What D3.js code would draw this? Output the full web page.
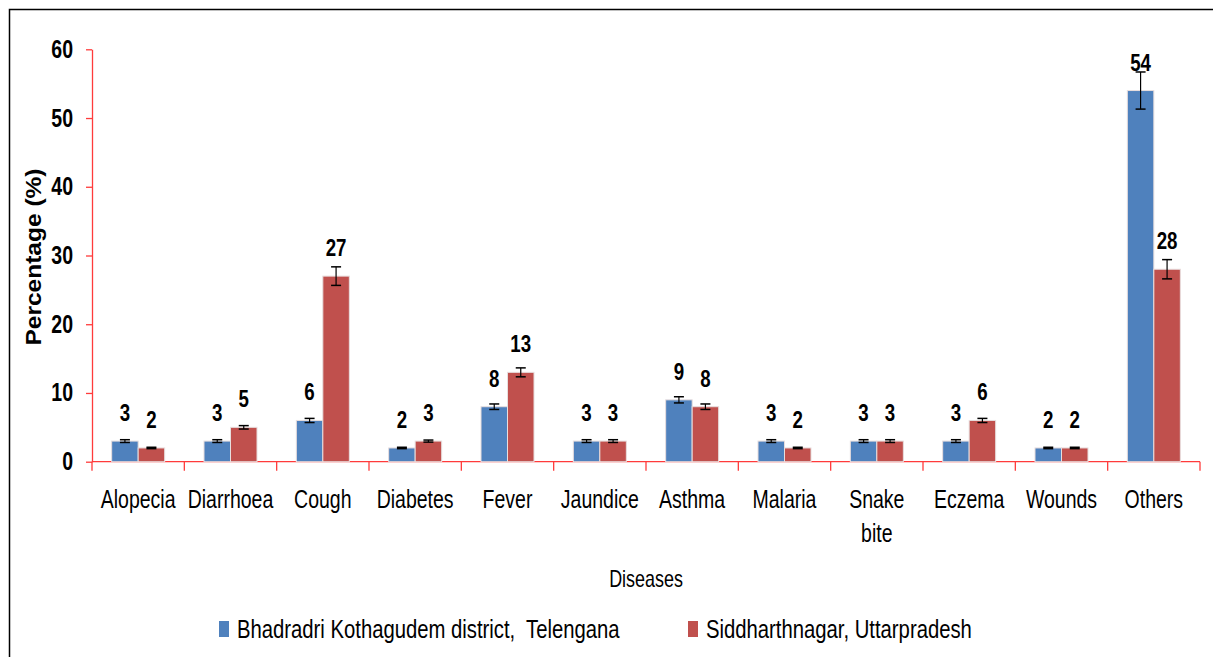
<!DOCTYPE html>
<html>
<head>
    <meta charset="utf-8">
    <title>Diseases bar chart</title>
    <script src="https://cdn.jsdelivr.net/npm/d3@7/dist/d3.min.js"></script>
    <style>
        body {
            margin: 0;
            background: #fff;
            font-family: "Liberation Sans", Arial, sans-serif;
        }
        svg { display: block; }
    </style>
</head>
<body>
    <script>
    // chart values
    var diseases = ["Alopecia", "Diarrhoea", "Cough", "Diabetes", "Fever", "Jaundice",
                    "Asthma", "Malaria", "Snake bite", "Eczema", "Wounds", "Others"];
    var telengana = [3, 3, 6, 2, 8, 3, 9, 3, 3, 3, 2, 54];
    var uttarpradesh = [2, 5, 27, 3, 13, 3, 8, 2, 3, 6, 2, 28];
    var telenganaErr = [0.2, 0.2, 0.3, 0.1, 0.4, 0.2, 0.45, 0.2, 0.2, 0.2, 0.1, 2.7];
    var uttarpradeshErr = [0.1, 0.25, 1.35, 0.15, 0.65, 0.2, 0.4, 0.1, 0.2, 0.3, 0.1, 1.4];
    var seriesNames = ["Bhadradri Kothagudem district,  Telengana", "Siddharthnagar, Uttarpradesh"];
    var yTicks = [0, 10, 20, 30, 40, 50, 60];

    var colors = ["#4f81bd", "#c0504d"];
    var axisColor = "#ff3b3b";
    var sx = 0.78; // horizontal squeeze so Arial looks like the narrow original

    var width = 1213;
    var height = 657;

    var svg = d3.select("body")
        .append("svg")
        .attr("width", width)
        .attr("height", height);

    // squeezed text placed at real x
    function narrow(sel, xpos) {
        return sel.attr("transform", "scale(" + sx + ",1)")
            .attr("x", function(d, i) {
                var v = typeof xpos === "function" ? xpos(d, i) : xpos;
                return v / sx;
            });
    }

    // outer frame (top and left edges)
    svg.append("path")
        .attr("d", "M9.5,657 L9.5,9.5 L1213,9.5")
        .attr("fill", "none")
        .attr("stroke", "#000")
        .attr("stroke-width", 1.5);

    var x0 = d3.scaleBand()
        .domain(diseases)
        .range([92, 1200]);

    var x1 = d3.scaleBand()
        .domain([0, 1])
        .range([-26.5, 26.5]);

    var y = d3.scaleLinear()
        .domain([0, 60])
        .range([461.7, 49.3]);

    // y axis
    var yAxis = svg.append("g")
        .attr("transform", "translate(92,0)")
        .call(d3.axisLeft(y).tickValues(yTicks).tickSize(6).tickSizeOuter(0));
    yAxis.select(".domain").attr("stroke", axisColor).attr("stroke-width", 1.3);
    yAxis.selectAll(".tick line").attr("stroke", axisColor).attr("stroke-width", 1.3);
    narrow(yAxis.selectAll(".tick text"), -19)
        .attr("fill", "#000")
        .style("font-family", "'Liberation Sans', Arial, sans-serif")
        .style("font-size", "25px")
        .style("font-weight", "bold");

    // x axis line with ticks at category boundaries
    var xAxis = svg.append("g");
    xAxis.append("line")
        .attr("x1", x0.range()[0]).attr("x2", x0.range()[1])
        .attr("y1", y(0)).attr("y2", y(0))
        .attr("stroke", axisColor).attr("stroke-width", 1.3);
    var bounds = diseases.map(function(d) { return x0(d); }).concat([x0.range()[1]]);
    xAxis.selectAll("line.tick")
        .data(bounds)
        .enter()
        .append("line")
        .attr("class", "tick")
        .attr("x1", function(d) { return d; })
        .attr("x2", function(d) { return d; })
        .attr("y1", y(0))
        .attr("y2", y(0) + 9)
        .attr("stroke", axisColor)
        .attr("stroke-width", 1.3);

    // category labels
    var catX = function(d) { return x0(d) + x0.bandwidth() / 2; };
    var catLabels = svg.append("g").selectAll("text")
        .data(diseases)
        .enter()
        .append("text")
        .attr("transform", "scale(" + sx + ",1)")
        .attr("y", 508)
        .attr("text-anchor", "middle")
        .style("font-size", "25px")
        .attr("fill", "#000");
    catLabels.each(function(d) {
        var t = d3.select(this);
        d.split(" ").forEach(function(w, i) {
            t.append("tspan")
                .attr("x", catX(d) / sx)
                .attr("dy", i === 0 ? 0 : 34)
                .text(w);
        });
    });

    // bars
    var rows = diseases.map(function(d, i) {
        return [
            { cat: d, s: 0, v: telengana[i], e: telenganaErr[i] },
            { cat: d, s: 1, v: uttarpradesh[i], e: uttarpradeshErr[i] }
        ];
    });

    var items = svg.append("g").selectAll("g")
        .data(rows)
        .enter()
        .append("g")
        .selectAll("g")
        .data(function(d) { return d; })
        .enter()
        .append("g");

    var bx = function(d) { return catX(d.cat) + x1(d.s); };
    var cx = function(d) { return bx(d) + x1.bandwidth() / 2; };

    items.append("rect")
        .attr("x", bx)
        .attr("width", x1.bandwidth())
        .attr("y", function(d) { return y(d.v); })
        .attr("height", function(d) { return y(0) - y(d.v); })
        .attr("fill", function(d) { return colors[d.s]; })
        .attr("stroke", "#e8dede")
        .attr("stroke-width", 1);

    // error bars
    items.append("line")
        .attr("x1", cx).attr("x2", cx)
        .attr("y1", function(d) { return y(d.v + d.e); })
        .attr("y2", function(d) { return y(d.v - d.e); })
        .attr("stroke", "#000").attr("stroke-width", 1.2);
    [1, -1].forEach(function(sign) {
        items.append("line")
            .attr("x1", function(d) { return cx(d) - 5; })
            .attr("x2", function(d) { return cx(d) + 5; })
            .attr("y1", function(d) { return y(d.v + sign * d.e); })
            .attr("y2", function(d) { return y(d.v + sign * d.e); })
            .attr("stroke", "#000").attr("stroke-width", 1.5);
    });

    // value labels
    narrow(items.append("text"), cx)
        .attr("y", function(d) { return y(d.v) - 20; })
        .attr("text-anchor", "middle")
        .style("font-size", "24px")
        .style("font-weight", "bold")
        .attr("fill", "#000")
        .text(function(d) { return d.v; });

    // axis titles
    svg.append("text")
        .attr("transform", "translate(41,257) rotate(-90)")
        .attr("text-anchor", "middle")
        .attr("textLength", 177)
        .attr("lengthAdjust", "spacingAndGlyphs")
        .style("font-size", "22px")
        .style("font-weight", "bold")
        .text("Percentage (%)");

    narrow(svg.append("text"), 646)
        .attr("y", 587)
        .attr("text-anchor", "middle")
        .style("font-size", "23px")
        .text("Diseases");

    // legend
    var legendX = [219, 688];
    var legend = svg.append("g").selectAll("g")
        .data(seriesNames)
        .enter()
        .append("g")
        .attr("transform", function(d, i) { return "translate(" + legendX[i] + ",621)"; });
    legend.append("rect")
        .attr("width", 10)
        .attr("height", 16)
        .attr("fill", function(d, i) { return colors[i]; });
    narrow(legend.append("text"), 18)
        .attr("y", 17)
        .style("font-size", "26px")
        .style("white-space", "pre")
        .attr("xml:space", "preserve")
        .text(function(d) { return d; });
    </script>
</body>
</html>
